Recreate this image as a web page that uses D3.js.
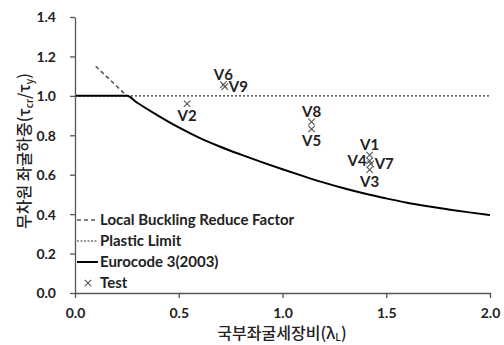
<!DOCTYPE html>
<html><head><meta charset="utf-8">
<script src="https://cdn.jsdelivr.net/npm/d3@7"></script>
<style>body{margin:0;background:#fff}svg{display:block}</style>
</head><body><svg id="c" width="504" height="345"></svg>
<script>
// ---- data ----
const xTicks = [0.0, 0.5, 1.0, 1.5, 2.0];
const yTicks = [0.0, 0.2, 0.4, 0.6, 0.8, 1.0, 1.2, 1.4];
const localBucklingX = [0.10, 0.15, 0.20, 0.25];
const localBucklingY = [1.15, 1.10, 1.05, 1.00];
const plasticX = [0.0, 2.0];
const plasticY = [1.0, 1.0];
const eurocodeX = [0.0, 0.25, 0.30, 0.40, 0.50, 0.60, 0.70, 0.80, 0.90, 1.00, 1.10, 1.20, 1.30, 1.40, 1.50, 1.60, 1.70, 1.80, 1.90, 2.00];
const eurocodeY = [1.0, 1.00, 0.965, 0.90, 0.84, 0.787, 0.742, 0.702, 0.664, 0.628, 0.593, 0.560, 0.530, 0.503, 0.480, 0.458, 0.440, 0.424, 0.409, 0.395];
const testNames = ["V1", "V2", "V3", "V4", "V5", "V6", "V7", "V8", "V9"];
const testX = [1.42, 0.54, 1.42, 1.42, 1.14, 0.715, 1.425, 1.14, 0.722];
const testY = [0.70, 0.96, 0.625, 0.67, 0.832, 1.057, 0.655, 0.868, 1.047];
const legendLabels = ["Local Buckling Reduce Factor", "Plastic Limit", "Eurocode 3(2003)", "Test"];

// ---- drawing ----
const svg = d3.select("#c");
const x = d3.scaleLinear().domain([0, 2]).range([75, 490]);
const y = d3.scaleLinear().domain([0, 1.4]).range([293, 17]);
const font = "Lato, 'Open Sans', sans-serif";
const axisCol = "#555";

const line = d3.line().x(d => x(d[0])).y(d => y(d[1]));

// plastic limit (dotted)
svg.append("path").datum(d3.zip(plasticX, plasticY)).attr("d", line)
  .attr("fill", "none").attr("stroke", "#333").attr("stroke-width", 1.2).attr("stroke-dasharray", "2,2");
// local buckling (dashed)
svg.append("path").datum(d3.zip(localBucklingX, localBucklingY)).attr("d", line)
  .attr("fill", "none").attr("stroke", "#555").attr("stroke-width", 1.6).attr("stroke-dasharray", "4,3");
// eurocode (solid)
svg.append("path").datum(d3.zip(eurocodeX, eurocodeY))
  .attr("d", line.curve(d3.curveMonotoneX))
  .attr("fill", "none").attr("stroke", "#000").attr("stroke-width", 2);

// axes
const xAxis = d3.axisBottom(x).tickValues(xTicks).tickFormat(d3.format(".1f")).tickSize(5).tickSizeOuter(0);
const yAxis = d3.axisLeft(y).tickValues(yTicks).tickFormat(d3.format(".1f")).tickSize(5).tickSizeOuter(0);
const gx = svg.append("g").attr("transform", `translate(0,${y(0)})`).call(xAxis);
const gy = svg.append("g").attr("transform", `translate(${x(0)},0)`).call(yAxis);
[gx, gy].forEach(g => {
  g.select(".domain").attr("stroke", axisCol).attr("stroke-width", 1.3);
  g.selectAll(".tick line").attr("stroke", axisCol).attr("stroke-width", 1.3);
  g.selectAll(".tick text").attr("fill", "#222").attr("font-family", font)
    .attr("font-weight", "bold").attr("font-size", 14);
});
gx.selectAll(".tick text").attr("dy", null).attr("y", 24.5);
gy.selectAll(".tick text").attr("x", -19).attr("dy", "0.35em");

// test markers
const pts = d3.zip(testX, testY, testNames);
svg.append("g").selectAll("path").data(pts).join("path")
  .attr("d", d => { const cx = x(d[0]), cy = y(d[1]), s = 3.2;
    return `M${cx-s},${cy-s}L${cx+s},${cy+s}M${cx-s},${cy+s}L${cx+s},${cy-s}`; })
  .attr("stroke", "#555").attr("stroke-width", 1.1).attr("fill", "none");

// labels
const place = {V1: "above", V2: "below", V3: "below", V4: "left", V5: "below", V6: "above", V7: "right", V8: "above", V9: "right"};
svg.append("g").selectAll("text").data(pts).join("text")
  .attr("font-family", font).attr("font-weight", "bold").attr("font-size", 15).attr("fill", "#222")
  .each(function(d) {
    const t = d3.select(this), cx = x(d[0]), cy = y(d[1]), p = place[d[2]];
    if (p === "above") t.attr("x", cx).attr("y", cy - 5).attr("text-anchor", "middle");
    else if (p === "below") t.attr("x", cx).attr("y", cy + 17).attr("text-anchor", "middle");
    else if (p === "left") t.attr("x", cx - 3).attr("y", cy + 5.5).attr("text-anchor", "end");
    else t.attr("x", cx + 4).attr("y", cy + 5.5).attr("text-anchor", "start");
  })
  .text(d => d[2]);

// legend
const lg = svg.append("g");
const rowY = i => 220 + i * 21;
const lx0 = 77, lx1 = 98;
lg.append("line").attr("x1", lx0).attr("x2", lx1).attr("y1", rowY(0)).attr("y2", rowY(0))
  .attr("stroke", "#555").attr("stroke-width", 1.5).attr("stroke-dasharray", "4,3");
lg.append("line").attr("x1", lx0).attr("x2", lx1).attr("y1", rowY(1)).attr("y2", rowY(1))
  .attr("stroke", "#333").attr("stroke-width", 1.2).attr("stroke-dasharray", "2,1.5");
lg.append("line").attr("x1", lx0).attr("x2", lx1).attr("y1", rowY(2)).attr("y2", rowY(2))
  .attr("stroke", "#000").attr("stroke-width", 2);
{ const cx = 88, cy = rowY(3), s = 3.2;
  lg.append("path").attr("d", `M${cx-s},${cy-s}L${cx+s},${cy+s}M${cx-s},${cy+s}L${cx+s},${cy-s}`)
    .attr("stroke", "#555").attr("stroke-width", 1.1); }
lg.selectAll("text").data(legendLabels).join("text")
  .attr("x", 100).attr("y", (d, i) => rowY(i)).attr("dy", "0.35em")
  .attr("font-family", font).attr("font-weight", "bold").attr("font-size", 15).attr("fill", "#222")
  .text(d => d);

// axis titles
const kfont = "'Noto Sans CJK KR', sans-serif";
const xt = svg.append("text").attr("x", 282).attr("y", 338.5).attr("text-anchor", "middle")
  .attr("font-family", kfont).attr("font-size", 16).attr("font-weight", 500).attr("fill", "#222");
xt.append("tspan").text("국부좌굴세장비(λ");
xt.append("tspan").attr("font-size", 10).attr("dy", 2).text("L");
xt.append("tspan").attr("dy", -2).text(")");

const yt = svg.append("text").attr("transform", "translate(30,151) rotate(-90)").attr("text-anchor", "middle")
  .attr("font-family", kfont).attr("font-size", 16).attr("font-weight", 500).attr("fill", "#222");
yt.append("tspan").text("무차원 좌굴하중(τ");
yt.append("tspan").attr("font-size", 10).attr("dy", 3).text("cr");
yt.append("tspan").attr("dy", -3).text("/τ");
yt.append("tspan").attr("font-size", 10).attr("dy", 3).text("y");
yt.append("tspan").attr("dy", -3).text(")");
</script></body></html>
